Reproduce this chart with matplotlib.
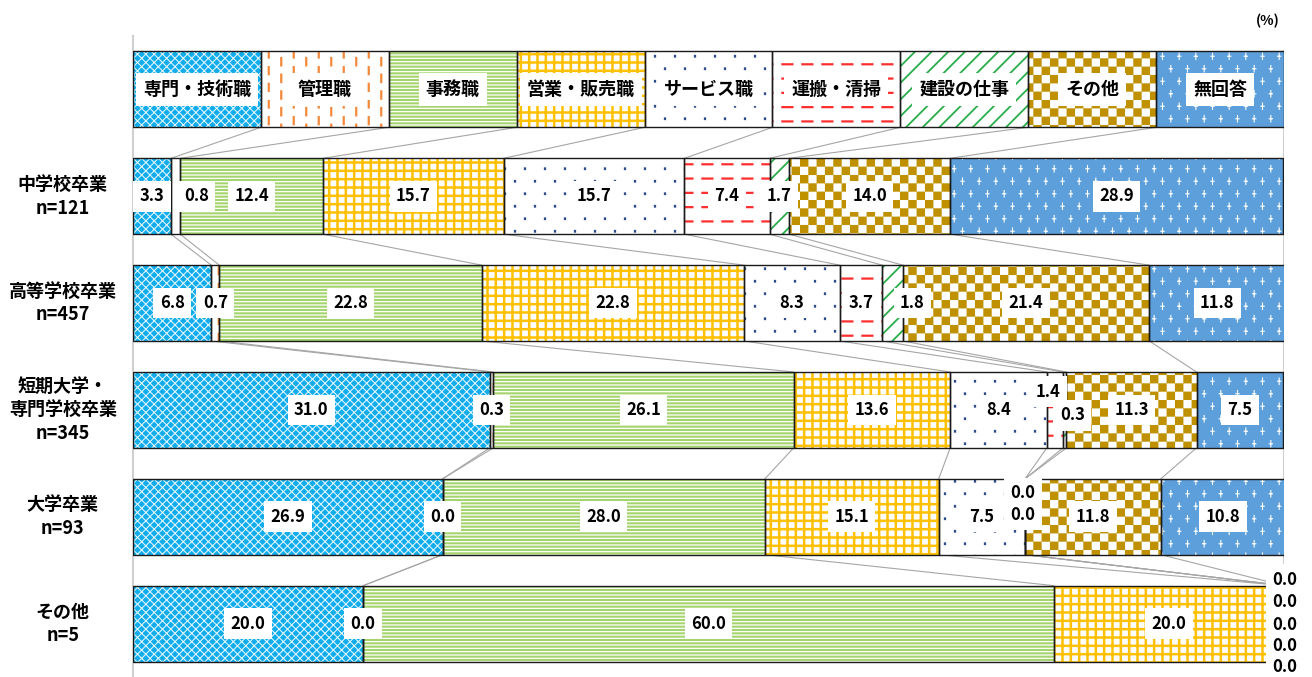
import warnings
import numpy as np
import matplotlib
matplotlib.use("Agg")
import matplotlib.pyplot as plt
import matplotlib.hatch as mhatch
from matplotlib.path import Path

warnings.filterwarnings("ignore")

plt.rcParams["font.family"] = ["Noto Sans CJK JP", "DejaVu Sans"]

# ---- data ----
categories = ["専門・技術職", "管理職", "事務職", "営業・販売職", "サービス職",
              "運搬・清掃", "建設の仕事", "その他", "無回答"]
groups = ["中学校卒業\nn=121", "高等学校卒業\nn=457", "短期大学・\n専門学校卒業\nn=345",
          "大学卒業\nn=93", "その他\nn=5"]
chugaku = [3.3, 0.8, 12.4, 15.7, 15.7, 7.4, 1.7, 14.0, 28.9]
koko = [6.8, 0.7, 22.8, 22.8, 8.3, 3.7, 1.8, 21.4, 11.8]
tanki = [31.0, 0.3, 26.1, 13.6, 8.4, 1.4, 0.3, 11.3, 7.5]
daigaku = [26.9, 0.0, 28.0, 15.1, 7.5, 0.0, 0.0, 11.8, 10.8]
sonota = [20.0, 0.0, 60.0, 20.0, 0.0, 0.0, 0.0, 0.0, 0.0]
values = [chugaku, koko, tanki, daigaku, sonota]


# ---- extra hatch motifs (checker, dashes, dots, plus signs) ----
def add_motif(char, nx, ny, lines=(), boxes=()):
    cell_v, cell_c = [], []
    for a, b in lines:
        cell_v += [a, b]
        cell_c += [Path.MOVETO, Path.LINETO]
    for x0, y0, x1, y1 in boxes:
        cell_v += [(x0, y0), (x1, y0), (x1, y1), (x0, y1), (x0, y0)]
        cell_c += [Path.MOVETO, Path.LINETO, Path.LINETO, Path.LINETO, Path.CLOSEPOLY]
    cell_v = np.array(cell_v, float)

    class Motif(mhatch.HatchPatternBase):
        def __init__(self, hatch, density):
            self.num_vertices = len(cell_c) * nx * ny if char in hatch else 0

        def set_vertices_and_codes(self, vertices, codes):
            parts = [(cell_v + [i, j]) / [nx, ny] for i in range(nx) for j in range(ny)]
            vertices[:] = np.concatenate(parts)
            codes[:] = cell_c * (nx * ny)

    mhatch._hatch_types.append(Motif)


add_motif("c", 6, 6, boxes=[(0, 0, 0.5, 0.5), (0.5, 0.5, 1, 1)])
add_motif("d", 4, 6, lines=[((0.25, 0.08), (0.25, 0.52)), ((0.75, 0.55), (0.75, 0.97))])
add_motif("r", 5, 7, lines=[((0.12, 0.5), (0.62, 0.5))])
add_motif("s", 5, 4, boxes=[(0.2, 0.2, 0.3, 0.3), (0.7, 0.7, 0.8, 0.8)])
add_motif("p", 6, 4, lines=[((0.15, 0.25), (0.35, 0.25)), ((0.25, 0.12), (0.25, 0.38)),
                            ((0.65, 0.75), (0.85, 0.75)), ((0.75, 0.62), (0.75, 0.88))])

# face colour, hatch colour, hatch, hatch linewidth
styles = [
    ("#10ACEC", "#DDF4FF", "xxxx", 0.8),
    ("white", "#F4883A", "d", 1.6),
    ("#A5D46F", "white", "-----", 0.9),
    ("white", "#FFC000", "++", 1.8),
    ("white", "#2F4C8C", "s", 0.2),
    ("white", "#FF2E2E", "r", 1.6),
    ("white", "#29AE4A", "//", 1.3),
    ("white", "#BF9000", "c", 0.1),
    ("#5C9FDB", "white", "p", 0.8),
]

bar_h = 0.71
gray = "#A6A6A6"

# label nudges for crowded small segments: (row, segment) -> (dx, dy)
nudges = {
    (1, 1): (1.8, 0), (2, 6): (1.7, 0),
    (3, 5): (-0.6, -0.17), (3, 6): (0.65, 0.05),
    (4, 5): (-0.2, -0.22), (4, 6): (-0.2, -0.02),
    (5, 4): (0.1, -0.41), (5, 5): (0.1, -0.2), (5, 6): (0.1, 0.01),
    (5, 7): (0.1, 0.21), (5, 8): (0.1, 0.41),
}

fig = plt.figure(figsize=(13.12, 6.77), dpi=100)
ax = fig.add_axes([133 / 1312, 0, 1151 / 1312, 1 - 36 / 677])
ax.set_xlim(0, 100)
ax.set_ylim(5.5, -0.5)


def draw_row(y, widths):
    lefts = np.concatenate([[0], np.cumsum(widths)[:-1]])
    for k, (l, w) in enumerate(zip(lefts, widths)):
        face, hcol, hatch, hlw = styles[k]
        plt.rcParams["hatch.linewidth"] = hlw
        bars = ax.barh(y, w, left=l, height=bar_h, color=face, edgecolor=hcol,
                       linewidth=0, hatch=hatch, zorder=2)
        for p in bars:
            if hasattr(p, "set_hatch_linewidth"):
                p.set_hatch_linewidth(hlw)
    ax.barh(y, widths, left=lefts, height=bar_h, facecolor="none",
            edgecolor="#1A1A1A", linewidth=1.0, zorder=3)
    return lefts


label_box = dict(boxstyle="square,pad=0.38", facecolor="white", edgecolor="none")

# legend row on top
legend_w = [100 / len(categories)] * len(categories)
lefts = draw_row(0, legend_w)
for k, name in enumerate(categories):
    ax.text(lefts[k] + legend_w[k] / 2, 0, name, ha="center", va="center",
            fontsize=13, fontweight="bold", bbox=label_box, zorder=5)

# data rows
rows = [legend_w] + values
for r, vals in enumerate(values, start=1):
    lefts = draw_row(r, vals)
    for k, v in enumerate(vals):
        dx, dy = nudges.get((r, k), (0, 0))
        ax.text(lefts[k] + v / 2 + dx, r + dy, f"{v:.1f}", ha="center", va="center",
                fontsize=12, fontweight="bold", bbox=label_box, zorder=5, clip_on=False)
    ax.text(-6.1, r, groups[r - 1], ha="center", va="center", fontsize=13,
            fontweight="bold", linespacing=1.3, clip_on=False)

# connector lines between rows
for r in range(len(rows) - 1):
    top = np.cumsum(rows[r])
    bottom = np.cumsum(rows[r + 1])
    for k in range(len(categories) - 1):
        ax.plot([top[k], bottom[k]], [r + bar_h / 2, r + 1 - bar_h / 2],
                color=gray, linewidth=0.8, zorder=1)

ax.axvline(100, ymax=(5.5 + bar_h / 2) / 6, color="#D0D0D0", linewidth=1.5, zorder=1)
for side in ["top", "right", "bottom"]:
    ax.spines[side].set_visible(False)
ax.spines["left"].set_color("#D0D0D0")
ax.spines["left"].set_linewidth(1.5)
ax.set_xticks([])
ax.set_yticks([])

fig.text(1268 / 1312, 1 - 21 / 677, "(%)", ha="center", va="center",
         fontsize=10, fontweight="bold")

fig.savefig("out.png", dpi=100)
